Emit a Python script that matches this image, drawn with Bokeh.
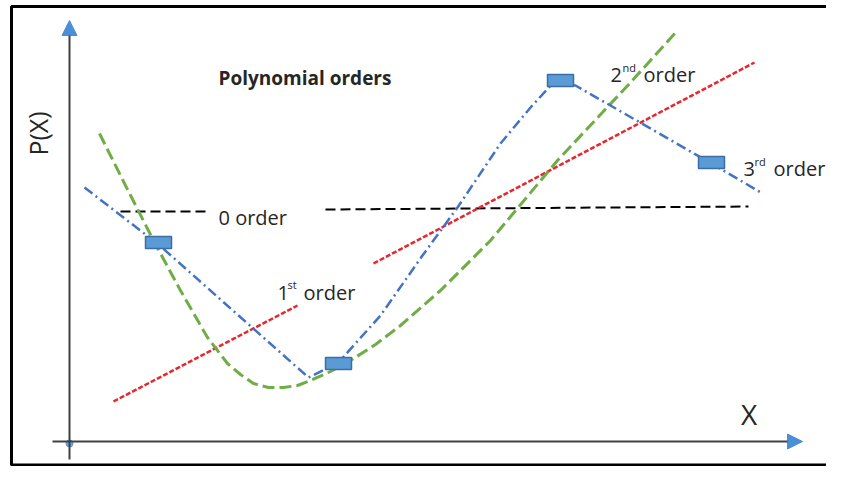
from bokeh.plotting import figure
from bokeh.models import Range1d, Arrow, NormalHead, Label
from bokeh.embed import file_html
from bokeh.resources import INLINE

# ---- data (diagram units: X to the right of the origin, P(X) above it) ----
# 0 order (constant), drawn in two pieces around its label
zero_x1 = [51, 136]
zero_y1 = [230, 230]
zero_x2 = [256, 679]
zero_y2 = [232, 235]

# 1st order (straight line), drawn in two pieces
first_x1 = [44, 228]
first_y1 = [40, 136]
first_x2 = [304, 685]
first_y2 = [178, 379]

# 2nd order (parabola-like)
second_x = [30, 56, 84, 111, 138, 158, 171, 184, 199, 214, 228, 241, 261, 281, 306, 331, 371, 421, 488, 561, 608]
second_y = [308, 256, 201, 151, 104, 78, 67, 58, 54, 54, 56, 61, 70, 81, 97, 116, 151, 201, 281, 359, 411]

# 3rd order (dash-dot through the sample points)
third_x = [15, 89, 239, 269, 311, 353, 388, 431, 461, 484, 506, 642, 693]
third_y = [254, 197, 64, 79, 126, 186, 234, 298, 334, 359, 356, 278, 248]

# sample points (blue boxes)
pts_x = [89, 269, 491, 642]
pts_y = [199, 78, 361, 279]

FONT = "Open Sans"
TXT = "#262626"

p = figure(width=826, height=466, output_backend="svg", toolbar_location=None,
           x_range=Range1d(-69, 757), y_range=Range1d(-25, 441),
           x_axis_type=None, y_axis_type=None, min_border=0,
           background_fill_color="white", border_fill_color="white")
p.grid.visible = False
p.outline_line_color = None

# frame box (left, top, bottom edges; right edge is cut off in the reference)
p.line([900, -58, -58, 900], [435, 435, -23.5, -23.5], line_color="black", line_width=3)

# axes as arrows
ax_col = "#404040"
head_col = "#4a8fd8"
p.add_layout(Arrow(end=NormalHead(size=15, fill_color=head_col, line_color=head_col),
                   x_start=-17, y_start=0, x_end=733, y_end=0,
                   line_color=ax_col, line_width=2))
p.add_layout(Arrow(end=NormalHead(size=15, fill_color=head_col, line_color=head_col),
                   x_start=0, y_start=-18, x_end=0, y_end=421,
                   line_color=ax_col, line_width=2))
p.scatter([0], [-2], size=7, color=head_col, alpha=0.8)

# curves
p.line(zero_x1, zero_y1, line_color="black", line_width=2, line_dash="10 5")
p.line(zero_x2, zero_y2, line_color="black", line_width=2, line_dash="10 5")

red = "#e8262b"
p.line(first_x1, first_y1, line_color=red, line_width=2.5, line_dash="5 2")
p.line(first_x2, first_y2, line_color=red, line_width=2.5, line_dash="5 2")

p.line(second_x, second_y, line_color="#70ad47", line_width=3, line_dash="12 5")

p.line(third_x, third_y, line_color="#4472c4", line_width=2.5, line_dash="10 4 2 4")

p.rect(pts_x, pts_y, width=26, height=12, width_units="screen", height_units="screen",
       fill_color="#5b9bd5", line_color="#3a6ea5", line_width=1.5)

# labels
def lab(x, y, t, size, **kw):
    p.add_layout(Label(x=x, y=y, text=t, text_font=FONT, text_font_size=size,
                       text_color=TXT, **kw))

lab(-32, 308, "P(X)", "25px", angle=1.5708, text_align="center", text_baseline="middle")
lab(679.5, 27.5, "X", "28px", text_align="center", text_baseline="middle")
lab(149, 364, "Polynomial orders", "19px", text_font_style="bold", text_baseline="alphabetic")
lab(149, 224, "0 order", "20px", text_baseline="alphabetic")

lab(208, 149, "1", "20px", text_baseline="alphabetic")
lab(218, 157, "st", "11px", text_baseline="alphabetic")
lab(234, 149, "order", "20px", text_baseline="alphabetic")

lab(541, 367, "2", "20px", text_baseline="alphabetic")
lab(553, 374, "nd", "11px", text_baseline="alphabetic")
lab(574, 367, "order", "20px", text_baseline="alphabetic")

lab(674, 273, "3", "20px", text_baseline="alphabetic")
lab(685, 280, "rd", "11px", text_baseline="alphabetic")
lab(704, 273, "order", "20px", text_baseline="alphabetic")

open("out.html", "w").write(file_html(p, INLINE))
